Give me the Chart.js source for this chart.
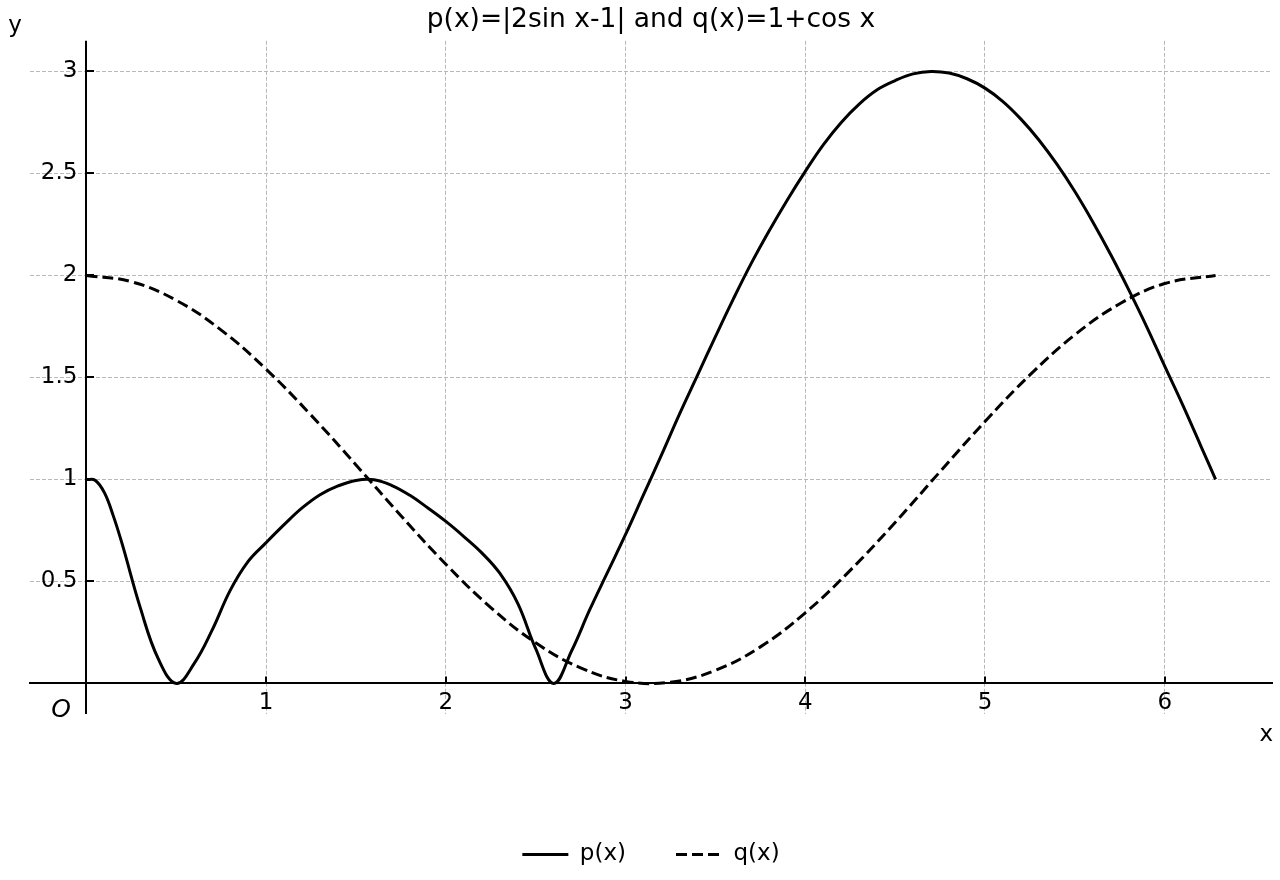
<!DOCTYPE html>
<html>
<head>
<meta charset="utf-8">
<title>p(x)=|2sin x-1| and q(x)=1+cos x</title>
<script src="https://cdn.jsdelivr.net/npm/chart.js@4.4.1/dist/chart.umd.min.js"></script>
<style>
  html, body { margin: 0; padding: 0; background: #fff; }
  #wrap { width: 1280px; height: 880px; }
</style>
</head>
<body>
<div id="wrap"><canvas id="chart" width="1280" height="880"></canvas></div>
<script>
// valores (paso 0.1 para p, 0.25 para q)
const pX = [0, 0.05, 0.1, 0.15, 0.2, 0.3, 0.4, 0.5, 0.6, 0.7, 0.8, 0.9,
            1.0, 1.1, 1.2, 1.3, 1.4, 1.5, 1.6, 1.7, 1.8, 1.9,
            2.0, 2.1, 2.2, 2.3, 2.4, 2.5, 2.6, 2.7, 2.8, 2.9,
            3.0, 3.1, 3.2, 3.3, 3.4, 3.5, 3.6, 3.7, 3.8, 3.9,
            4.0, 4.1, 4.2, 4.3, 4.4, 4.5, 4.6, 4.7, 4.8, 4.9,
            5.0, 5.1, 5.2, 5.3, 5.4, 5.5, 5.6, 5.7, 5.8, 5.9,
            6.0, 6.1, 6.2, 6.283];
const pY = [1.0, 0.995, 0.935, 0.82, 0.68, 0.37, 0.12, 0.0, 0.098, 0.262, 0.456, 0.598,
            0.69, 0.778, 0.86, 0.925, 0.968, 0.995, 0.998, 0.97, 0.922, 0.86,
            0.794, 0.72, 0.64, 0.54, 0.392, 0.17, 0.0, 0.16, 0.36, 0.545,
            0.73, 0.925, 1.12, 1.32, 1.51, 1.70, 1.885, 2.06, 2.22, 2.37,
            2.51, 2.64, 2.75, 2.84, 2.91, 2.955, 2.988, 3.0, 2.992, 2.964,
            2.918, 2.852, 2.766, 2.664, 2.545, 2.411, 2.262, 2.101, 1.929, 1.748,
            1.555, 1.365, 1.166, 1.0];

const qX = [0, 0.25, 0.5, 0.75, 1.0, 1.25, 1.5, 1.75, 2.0, 2.25, 2.5, 2.75, 3.0, 3.25, 3.5, 3.75,
            4.0, 4.25, 4.5, 4.75, 5.0, 5.25, 5.5, 5.75, 6.0, 6.283];
const qY = [2.0, 1.969, 1.878, 1.732, 1.54, 1.315, 1.071, 0.822, 0.584, 0.372, 0.199, 0.076, 0.01, 0.006,
            0.064, 0.179, 0.346, 0.554, 0.789, 1.038, 1.284, 1.512, 1.709, 1.861, 1.96, 2.0];

const xTicks = [1, 2, 3, 4, 5, 6];
const xTickLabels = ['1', '2', '3', '4', '5', '6'];
const yTicks = [0.5, 1, 1.5, 2, 2.5, 3];
const yTickLabels = ['0.5', '1', '1.5', '2', '2.5', '3'];
const seriesNames = ['p(x)', 'q(x)'];

const FONT = "'DejaVu Sans', 'Liberation Sans', sans-serif";
const GRID = '#b8b8b8';

// eje y en x=0, marcas hacia dentro y rotulos x, y, O
const axisMarks = {
    id: 'axisMarks',
    afterDraw(chart) {
        const { ctx, scales: { x, y }, chartArea } = chart;
        const x0 = Math.round(x.getPixelForValue(0));
        const y0 = y.getPixelForValue(0);
        ctx.save();
        ctx.strokeStyle = '#000';
        ctx.lineWidth = 2;
        ctx.beginPath();
        ctx.moveTo(x0, chartArea.top);
        ctx.lineTo(x0, chartArea.bottom);
        xTicks.forEach(v => {
            const px = Math.round(x.getPixelForValue(v));
            ctx.moveTo(px, y0);
            ctx.lineTo(px, y0 - 7);
        });
        yTicks.forEach(v => {
            const py = Math.round(y.getPixelForValue(v));
            ctx.moveTo(x0, py);
            ctx.lineTo(x0 + 8, py);
        });
        ctx.stroke();

        ctx.fillStyle = '#000';
        ctx.font = '23px ' + FONT;
        ctx.textBaseline = 'middle';
        ctx.textAlign = 'right';
        ctx.fillText('x', chartArea.right + 1, 735);
        ctx.textAlign = 'center';
        ctx.fillText('y', 15, 26);
        ctx.font = 'italic 25px ' + FONT;
        ctx.fillText('O', x0 - 25, y0 + 27);
        ctx.restore();
    }
};

const ctx = document.getElementById('chart').getContext('2d');
new Chart(ctx, {
    type: 'line',
    data: {
        datasets: [{
            label: seriesNames[0],
            data: pX.map((v, i) => ({ x: v, y: pY[i] })),
            borderColor: '#000',
            backgroundColor: '#000',
            borderWidth: 3,
            pointRadius: 0,
            fill: false,
            tension: 0.4
        }, {
            label: seriesNames[1],
            data: qX.map((v, i) => ({ x: v, y: qY[i] })),
            borderColor: '#000',
            backgroundColor: '#000',
            borderWidth: 3,
            borderDash: [11, 5],
            pointRadius: 0,
            fill: false,
            tension: 0.4
        }]
    },
    options: {
        responsive: false,
        animation: false,
        devicePixelRatio: 1,
        layout: { padding: { left: 30, right: 8, top: 0, bottom: 4 } },
        scales: {
            x: {
                type: 'linear',
                min: -0.314,
                max: 6.597,
                position: { y: 0 },
                afterBuildTicks: s => { s.ticks = xTicks.map(v => ({ value: v })); },
                ticks: {
                    autoSkip: false,
                    maxRotation: 0,
                    padding: 6,
                    color: '#000',
                    font: { family: FONT, size: 23 },
                    callback: (v, i) => xTickLabels[i]
                },
                grid: { color: GRID, lineWidth: 1, drawTicks: false },
                border: { display: true, color: '#000', width: 2, dash: [4, 2] }
            },
            y: {
                type: 'linear',
                min: -0.15,
                max: 3.15,
                // un poco a la izquierda de x=0 para separar los rotulos del eje
                position: { x: -0.05 },
                afterBuildTicks: s => { s.ticks = yTicks.map(v => ({ value: v })); },
                ticks: {
                    autoSkip: false,
                    color: '#000',
                    font: { family: FONT, size: 23 },
                    callback: (v, i) => yTickLabels[i]
                },
                grid: { color: GRID, lineWidth: 1, drawTicks: false },
                border: { display: false, dash: [4, 2] }
            },
            // hueco entre el area del grafico y la leyenda
            gap: {
                type: 'linear',
                position: 'bottom',
                display: true,
                ticks: { display: false },
                grid: { display: false, drawTicks: false },
                border: { display: false },
                afterFit: s => { s.height = 79; }
            }
        },
        plugins: {
            title: {
                display: true,
                text: 'p(x)=|2sin x-1| and q(x)=1+cos x',
                color: '#000',
                font: { family: FONT, size: 26.5, weight: 'normal' },
                padding: { top: 4, bottom: 5 }
            },
            legend: {
                position: 'bottom',
                labels: {
                    usePointStyle: true,
                    pointStyle: 'line',
                    pointStyleWidth: 46,
                    padding: 50,
                    color: '#000',
                    font: { family: FONT, size: 23 },
                    generateLabels: chart =>
                        Chart.defaults.plugins.legend.labels.generateLabels(chart).map((item, i) => {
                            const ds = chart.data.datasets[i];
                            item.lineDash = ds.borderDash || [];
                            item.lineWidth = ds.borderWidth;
                            item.strokeStyle = ds.borderColor;
                            return item;
                        })
                }
            },
            tooltip: { enabled: false }
        }
    },
    plugins: [axisMarks]
});
</script>
</body>
</html>
